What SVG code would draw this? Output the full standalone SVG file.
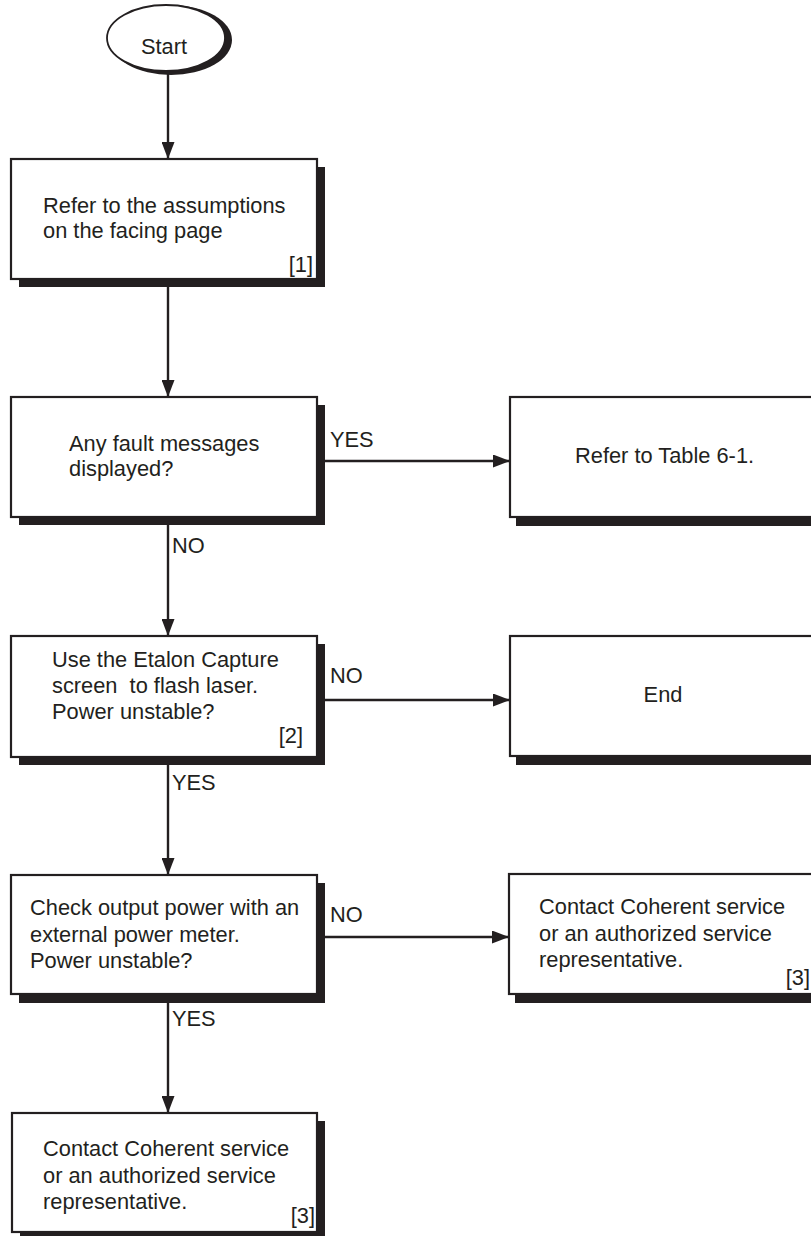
<svg xmlns="http://www.w3.org/2000/svg" width="811" height="1236" viewBox="0 0 811 1236">
<style>
.box{fill:#fff;stroke:#231f20;stroke-width:2.2}
.sh{fill:#231f20}
.ln{stroke:#231f20;stroke-width:2.4;fill:none}
text{font-family:"Liberation Sans",Arial,sans-serif;font-size:22.5px;fill:#231f20;transform-box:fill-box;transform-origin:0 0;transform:scaleX(0.97)}
.r{text-anchor:end;transform-origin:100% 0}
.m{text-anchor:middle;transform-origin:50% 0}
</style>
<defs>
<marker id="ah" viewBox="0 0 17 13" refX="17" refY="6.5" markerWidth="17" markerHeight="13" markerUnits="userSpaceOnUse" orient="auto">
<path d="M0,0 L17,6.5 L0,13 z" fill="#231f20"/>
</marker>
</defs>
<g id="connectors">
<line class="ln" x1="168" y1="74" x2="168" y2="159" marker-end="url(#ah)"/>
<line class="ln" x1="168" y1="287" x2="168" y2="397" marker-end="url(#ah)"/>
<line class="ln" x1="325" y1="461" x2="510" y2="461" marker-end="url(#ah)"/>
<line class="ln" x1="168" y1="525" x2="168" y2="636" marker-end="url(#ah)"/>
<line class="ln" x1="325" y1="700" x2="510" y2="700" marker-end="url(#ah)"/>
<line class="ln" x1="168" y1="765" x2="168" y2="875" marker-end="url(#ah)"/>
<line class="ln" x1="325" y1="937" x2="509" y2="937" marker-end="url(#ah)"/>
<line class="ln" x1="168" y1="1003" x2="168" y2="1113" marker-end="url(#ah)"/>
<text x="330" y="447">YES</text>
<text x="172" y="553">NO</text>
<text x="330" y="683">NO</text>
<text x="172" y="790">YES</text>
<text x="330" y="922">NO</text>
<text x="172" y="1026">YES</text>
</g>
<g id="start">
<ellipse cx="171" cy="40" rx="61" ry="35" class="sh"/>
<ellipse cx="166" cy="38" rx="59" ry="33" fill="#fff" stroke="#231f20" stroke-width="1.8"/>
<text class="m" x="164" y="54">Start</text>
</g>
<g id="n1">
<rect class="sh" x="19" y="167" width="306" height="120"/>
<rect class="box" x="11" y="159" width="306" height="120"/>
<text x="43" y="213">Refer to the assumptions</text>
<text x="43" y="238">on the facing page</text>
<text class="r" x="313" y="272">[1]</text>
</g>
<g id="n2">
<rect class="sh" x="19" y="405" width="306" height="120"/>
<rect class="box" x="11" y="397" width="306" height="120"/>
<text x="69" y="451">Any fault messages</text>
<text x="69" y="476">displayed?</text>
</g>
<g id="n3">
<rect class="sh" x="516" y="405" width="310" height="121"/>
<rect class="box" x="510" y="397" width="310" height="120"/>
<text x="575" y="463">Refer to Table 6-1.</text>
</g>
<g id="n4">
<rect class="sh" x="19" y="644" width="306" height="121"/>
<rect class="box" x="11" y="636" width="306" height="121"/>
<text x="52" y="667">Use the Etalon Capture</text>
<text x="52" y="693" xml:space="preserve">screen  to flash laser.</text>
<text x="52" y="719">Power unstable?</text>
<text class="r" x="303" y="743">[2]</text>
</g>
<g id="n5">
<rect class="sh" x="516" y="644" width="310" height="121"/>
<rect class="box" x="510" y="636" width="310" height="120"/>
<text class="m" x="663" y="702">End</text>
</g>
<g id="n6">
<rect class="sh" x="19" y="883" width="306" height="120"/>
<rect class="box" x="11" y="875" width="306" height="119"/>
<text x="30" y="915">Check output power with an</text>
<text x="30" y="942">external power meter.</text>
<text x="30" y="968">Power unstable?</text>
</g>
<g id="n7">
<rect class="sh" x="515" y="882" width="310" height="121"/>
<rect class="box" x="509" y="874" width="310" height="120"/>
<text x="539" y="914">Contact Coherent service</text>
<text x="539" y="941">or an authorized service</text>
<text x="539" y="967">representative.</text>
<text class="r" x="810" y="985">[3]</text>
</g>
<g id="n8">
<rect class="sh" x="20" y="1121" width="305" height="120"/>
<rect class="box" x="12" y="1113" width="305" height="119"/>
<text x="43" y="1156">Contact Coherent service</text>
<text x="43" y="1183">or an authorized service</text>
<text x="43" y="1209">representative.</text>
<text class="r" x="315" y="1223">[3]</text>
</g>
</svg>
